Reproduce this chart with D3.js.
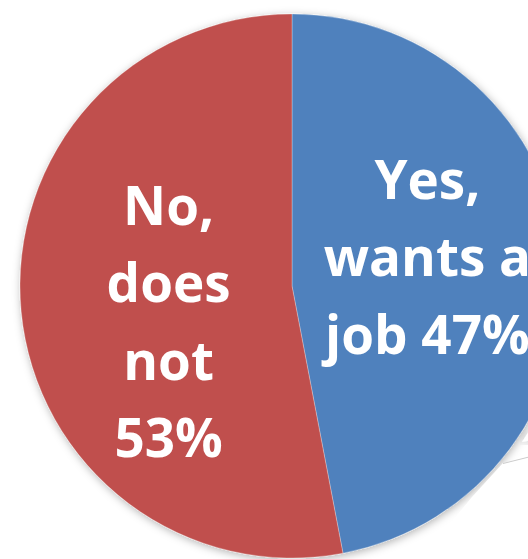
<!DOCTYPE html>
<html>
<head>
<meta charset="utf-8">
<script src="https://cdn.jsdelivr.net/npm/d3@7"></script>
<style>
  html, body { margin: 0; padding: 0; background: #fff; overflow: hidden; }
</style>
</head>
<body>
<div id="chart"></div>
<script>
// data
const categories = ["Yes, wants a job", "No, does not"];
const shares = [47, 53];
const labelLines = [["Yes,", "wants a", "job 47%"], ["No,", "does", "not", "53%"]];
const sliceColors = ["#4F81BD", "#C0504D"];

const width = 528, height = 559;
const cx = 292, cy = 286, radius = 272;

const svg = d3.select("#chart")
    .append("svg")
    .attr("width", width)
    .attr("height", height);

// soft shadow round the pie
const defs = svg.append("defs");
const shadow = defs.append("filter")
    .attr("id", "shadow")
    .attr("x", "-20%").attr("y", "-20%")
    .attr("width", "140%").attr("height", "140%");
shadow.append("feDropShadow")
    .attr("dx", 1).attr("dy", 2)
    .attr("stdDeviation", 4)
    .attr("flood-color", "#000")
    .attr("flood-opacity", 0.3);

const pie = d3.pie().sort(null).value(d => d.value);
const arc = d3.arc().innerRadius(0).outerRadius(radius);
const labelArc = d3.arc().innerRadius(radius * 0.5).outerRadius(radius * 0.5);

const table = categories.map((c, i) => ({ name: c, value: shares[i], lines: labelLines[i], color: sliceColors[i] }));
const arcs = pie(table);

const g = svg.append("g").attr("transform", `translate(${cx}, ${cy})`);

const slices = g.append("g").attr("filter", "url(#shadow)");
slices.selectAll("path")
    .data(arcs)
    .enter()
    .append("path")
    .attr("d", arc)
    .attr("fill", d => d.data.color)
    .attr("stroke", "#fff")
    .attr("stroke-opacity", 0.35)
    .attr("stroke-width", 0.8);

// nudges so the labels sit where the original put them
const nudge = [[0, -16], [12, 23]];
const lineGap = 77.5;

g.selectAll("text.lbl")
    .data(arcs)
    .enter()
    .append("text")
    .attr("class", "lbl")
    .attr("text-anchor", "middle")
    .style("font-family", "'Open Sans', sans-serif")
    .style("font-weight", "bold")
    .style("font-size", "53px")
    .attr("fill", "#fff")
    .each(function(d, i) {
        const c = labelArc.centroid(d);
        const n = d.data.lines.length;
        const x = c[0] + nudge[i][0];
        const y0 = c[1] + nudge[i][1] + 19 - (n - 1) * lineGap / 2;
        d3.select(this).selectAll("tspan")
            .data(d.data.lines)
            .enter()
            .append("tspan")
            .attr("x", x)
            .attr("y", (t, k) => y0 + k * lineGap)
            .text(t => t);
    });

// bits of a white callout overlapping the right edge
svg.append("path")
    .attr("d", "M522,442 L531,428 L531,440 Z")
    .attr("fill", "#fff")
    .attr("filter", "url(#shadow)");
svg.append("path")
    .attr("d", "M503,463 L531,456 L531,600 L420,600 L420,560 L472,497 Z")
    .attr("fill", "#fff");
svg.append("line")
    .attr("x1", 503).attr("y1", 463.5)
    .attr("x2", 531).attr("y2", 456.5)
    .attr("stroke", "#ccc")
    .attr("stroke-width", 1);
</script>
</body>
</html>
